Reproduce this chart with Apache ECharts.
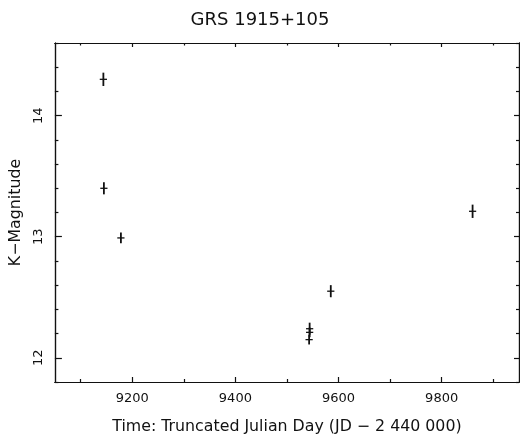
<!DOCTYPE html>
<html>
<head>
<meta charset="utf-8">
<script src="https://cdn.jsdelivr.net/npm/echarts@6/dist/echarts.min.js"></script>
<style>
  html, body { margin: 0; padding: 0; background: #fff; overflow: hidden; }
  #chart { width: 520px; height: 440px; }
</style>
</head>
<body>
<div id="chart"></div>
<script>
// ---- data ----
const days  = [9144, 9145, 9178, 9544, 9544, 9543, 9585, 9860];
const kMag  = [14.30, 13.40, 12.99, 12.24, 12.21, 12.15, 12.55, 13.21];
const dayErr = [7, 7, 7, 7, 7, 7, 7, 7];
const magErr = [0.055, 0.05, 0.045, 0.05, 0.04, 0.04, 0.05, 0.055];

const xMajorTicks = [9200, 9400, 9600, 9800];
const xMinorTicks = [9100, 9300, 9500, 9700, 9900];
const yMajorTicks = [12, 13, 14];
const yMinorTicks = [11.8, 12.2, 12.4, 12.6, 12.8, 13.2, 13.4, 13.6, 13.8, 14.2, 14.4, 14.6];

const titleText = 'GRS 1915+105';
const xName = 'Time: Truncated Julian Day (JD \u2212 2 440 000)';
const yName = 'K\u2212Magnitude';

const X_MIN = 9050, X_MAX = 9950, Y_MIN = 11.8, Y_MAX = 14.6;
const FONT = 'DejaVu Sans';
const INK = '#111';

const points = days.map((d, i) => [d, kMag[i], dayErr[i], magErr[i]]);

function xAxisDef(position, ticks, len, labels) {
  return {
    type: 'value', position: position, min: X_MIN, max: X_MAX,
    axisLine: { show: true, onZero: false, lineStyle: { color: INK, width: 1.2 } },
    axisTick: { show: true, inside: true, length: len, customValues: ticks, lineStyle: { color: INK, width: 1.2 } },
    axisLabel: labels ? { show: true, customValues: ticks, margin: 10, color: INK, fontFamily: FONT, fontSize: 13,
                          formatter: v => String(v) } : { show: false },
    splitLine: { show: false }
  };
}
function yAxisDef(position, ticks, len, labels) {
  return {
    type: 'value', position: position, min: Y_MIN, max: Y_MAX,
    axisLine: { show: true, onZero: false, lineStyle: { color: INK, width: 1.2 } },
    axisTick: { show: true, inside: true, length: len, customValues: ticks, lineStyle: { color: INK, width: 1.2 } },
    axisLabel: labels ? { show: true, customValues: ticks, rotate: 90, margin: 10, color: INK, fontFamily: FONT, fontSize: 13,
                          formatter: v => String(v) } : { show: false },
    splitLine: { show: false }
  };
}

const xAxes = [
  xAxisDef('bottom', xMajorTicks, 5, true),
  xAxisDef('bottom', xMinorTicks, 3, false),
  xAxisDef('top', xMajorTicks, 4, false),
  xAxisDef('top', xMinorTicks, 2.5, false)
];
xAxes[0].name = xName;
xAxes[0].nameLocation = 'middle';
xAxes[0].nameGap = 37;
xAxes[0].nameTextStyle = { color: INK, fontFamily: FONT, fontSize: 15.8 };

const yAxes = [
  yAxisDef('left', yMajorTicks, 7, true),
  yAxisDef('left', yMinorTicks, 3.5, false),
  yAxisDef('right', yMajorTicks, 5, false),
  yAxisDef('right', yMinorTicks, 3, false)
];
yAxes[0].name = yName;
yAxes[0].nameLocation = 'middle';
yAxes[0].nameGap = 27;
yAxes[0].nameTextStyle = { color: INK, fontFamily: FONT, fontSize: 15.8 };

const chart = echarts.init(document.getElementById('chart'), null, { renderer: 'canvas', width: 520, height: 440 });
chart.setOption({
  animation: false,
  backgroundColor: '#fff',
  title: {
    text: titleText, left: 'center', top: 6,
    textStyle: { color: INK, fontFamily: FONT, fontSize: 18, fontWeight: 'normal' }
  },
  grid: { left: 54, top: 43, right: 1, bottom: 51, containLabel: false },
  xAxis: xAxes,
  yAxis: yAxes,
  series: [{
    type: 'custom',
    xAxisIndex: 0, yAxisIndex: 0,
    data: points,
    renderItem: function (params, api) {
      const x = api.value(0), y = api.value(1), ex = api.value(2), ey = api.value(3);
      const c = api.coord([x, y]);
      const top = api.coord([x, y + ey]);
      const bot = api.coord([x, y - ey]);
      const lft = api.coord([x - ex, y]);
      const rgt = api.coord([x + ex, y]);
      return {
        type: 'group',
        children: [
          { type: 'line', shape: { x1: c[0], y1: top[1], x2: c[0], y2: bot[1] }, style: { stroke: INK, lineWidth: 1.8 } },
          { type: 'line', shape: { x1: lft[0], y1: c[1], x2: rgt[0], y2: c[1] }, style: { stroke: INK, lineWidth: 1.3 } }
        ]
      };
    }
  }]
});
</script>
</body>
</html>
